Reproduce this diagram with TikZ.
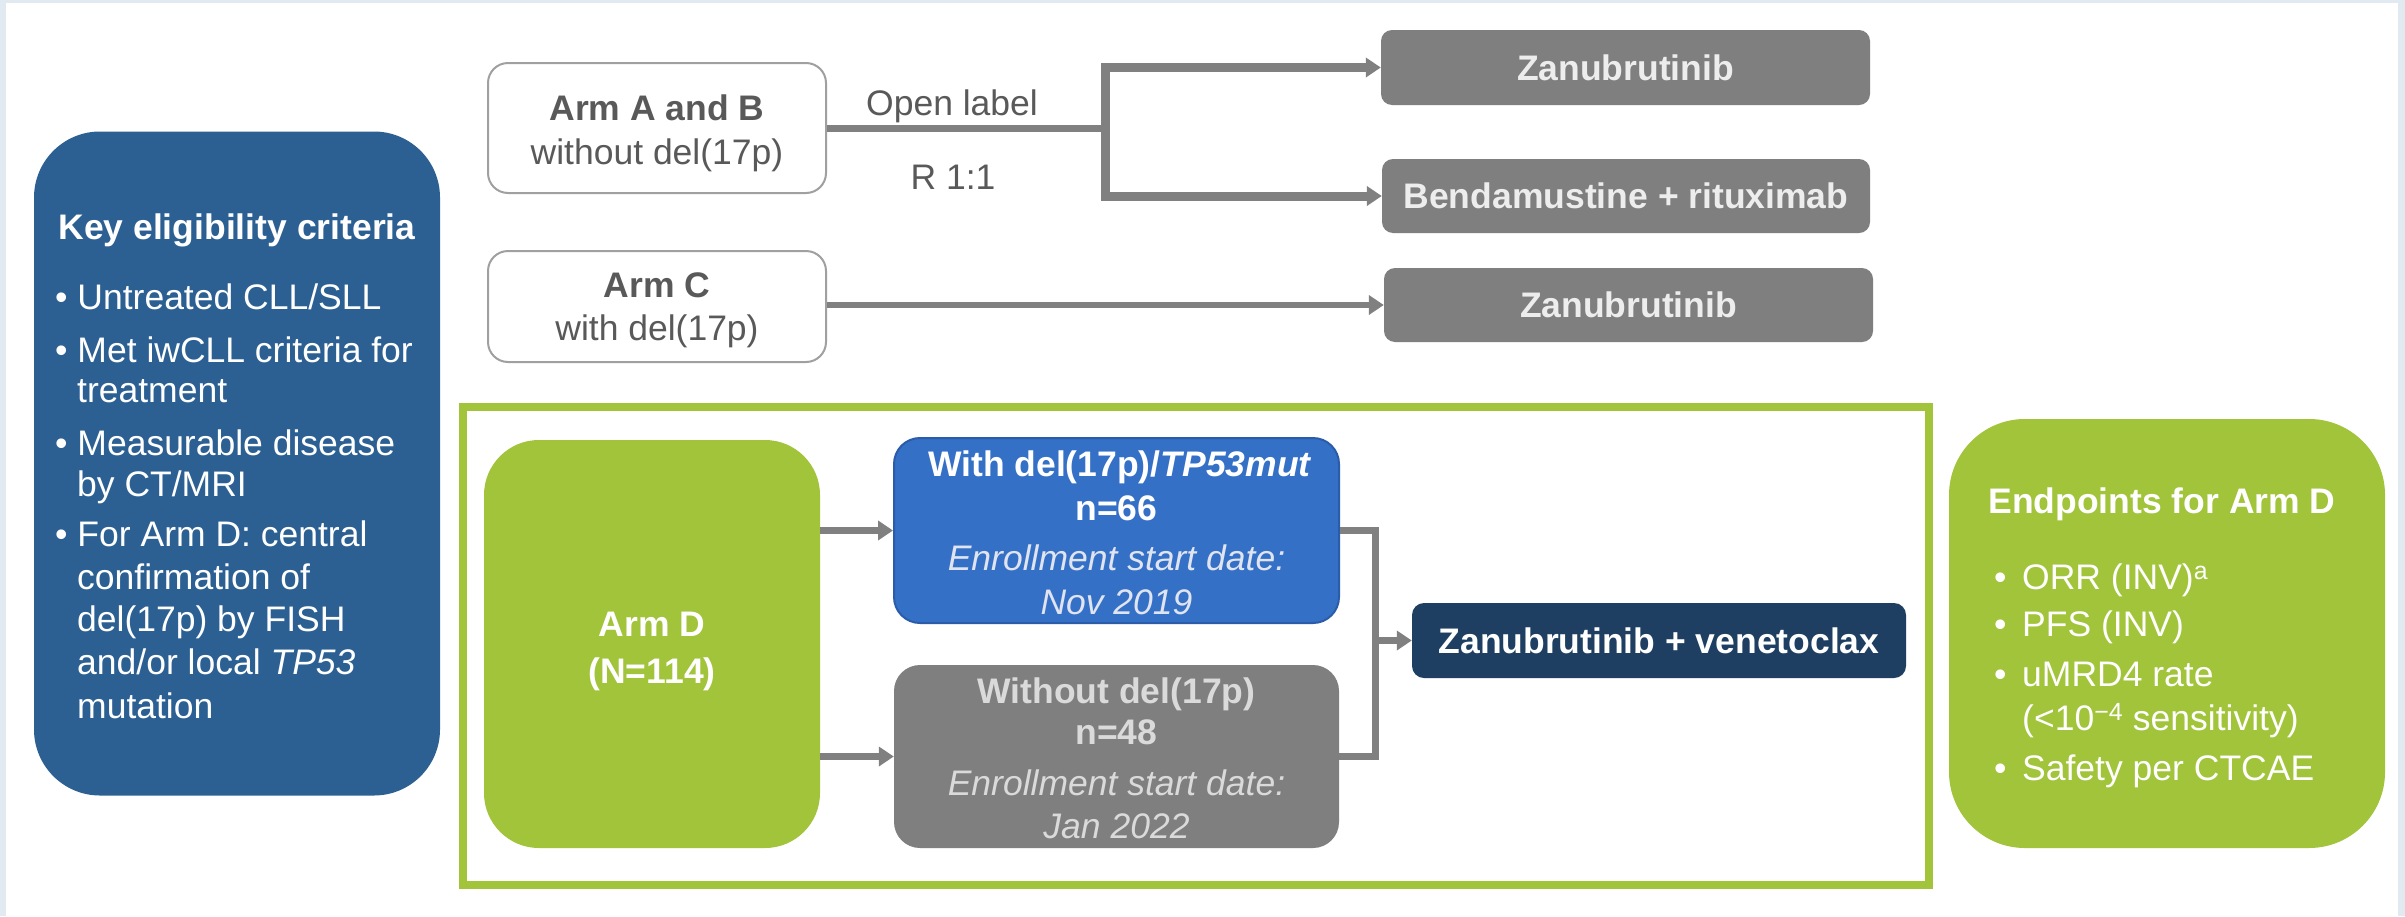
\documentclass[tikz,border=0pt]{standalone}
\usepackage{fontspec}
\setmainfont{Liberation Sans}
\usetikzlibrary{arrows.meta}
\definecolor{bgb}{HTML}{E1EAF0}
\definecolor{eblue}{HTML}{2C6093}
\definecolor{gr}{HTML}{A1C43A}
\definecolor{mblue}{HTML}{3570C7}
\definecolor{mblueb}{HTML}{2A5CAA}
\definecolor{gbox}{HTML}{7F7F7F}
\definecolor{navy}{HTML}{1E3F61}
\definecolor{cgray}{HTML}{808080}
\definecolor{armb}{HTML}{A0A0A0}
\definecolor{armt}{HTML}{595959}
\definecolor{ltxt}{HTML}{EDEDED}
\definecolor{gtxt}{HTML}{DADADA}
\definecolor{btxt}{HTML}{DFE4EE}
\newcommand{\fs}{\fontsize{35.5}{42}\selectfont}
\begin{document}
\begin{tikzpicture}[x=1pt,y=-1pt,
  armbox/.style={draw=armb, line width=2pt, fill=white, rounded corners=20pt, inner sep=0pt},
  gbx/.style={fill=gbox, rounded corners=11pt, inner sep=0pt, minimum height=75pt, text=ltxt, font=\fs\bfseries},
  tl/.style={anchor=base, inner sep=0pt, font=\fs},
  wl/.style={anchor=base west, inner sep=0pt, font=\fs, text=white},
  conn/.style={draw=cgray, line width=7pt},
  brk/.style={draw=cgray, line width=9pt},
  tip/.style={-{Triangle[length=15pt,width=19pt]}}
]
\path[use as bounding box, fill=bgb] (0,0) rectangle (2405,916);
\fill[white] (6,3) rectangle (2398,916);

% eligibility box
\node[fill=eblue, rounded corners=66pt, minimum width=406pt, minimum height=664pt, inner sep=0pt] (elig) at (237,463.5) {};
\node[tl, text=white, font=\fs\bfseries] (et) at (237,239) {Key eligibility criteria};
\node[wl] (e1) at (55,309) {\textbullet\ Untreated CLL/SLL};
\node[wl] (e2) at (55,362) {\textbullet\ Met iwCLL criteria for};
\node[wl] (e3) at (77,402) {treatment};
\node[wl] (e4) at (55,455) {\textbullet\ Measurable disease};
\node[wl] (e5) at (77,496) {by CT/MRI};
\node[wl] (e6) at (55,546) {\textbullet\ For Arm D: central};
\node[wl] (e7) at (77,589) {confirmation of};
\node[wl] (e8) at (77,631) {del(17p) by FISH};
\node[wl] (e9) at (77,674) {and/or local \textit{TP53}};
\node[wl] (e10) at (77,718) {mutation};

% arms A/B and C
\node[armbox, minimum width=338pt, minimum height=130pt] (armab) at (657,128) {};
\node[tl, text=armt, font=\fs\bfseries] (armab1) at (657,120) {Arm A and B};
\node[tl, text=armt] (armab2) at (657,164) {without del(17p)};
\node[armbox, minimum width=338pt, minimum height=111pt] (armc) at (657,306.5) {};
\node[tl, text=armt, font=\fs\bfseries] (armc1) at (657,297) {Arm C};
\node[tl, text=armt] (armc2) at (657,340) {with del(17p)};
\node[tl, text=armt] (ol) at (952,115) {Open label};
\node[tl, text=armt] (r11) at (953,189) {R 1:1};

\node[gbx, minimum width=489pt] (zan1) at (1625.5,67.5) {Zanubrutinib};
\node[gbx, minimum width=488pt, minimum height=74pt] (bend) at (1626,196) {Bendamustine + rituximab};
\node[gbx, minimum width=489pt, minimum height=74pt] (zan2) at (1628.5,305) {Zanubrutinib};

\coordinate (sp) at (1105,128);
\draw[conn] (armab.east) -- (sp);
\draw[brk, tip] (sp) |- (zan1.west);
\draw[brk, tip] (sp) |- (bend.west);
\draw[conn, line width=6pt, tip] (armc.east |- zan2.west) -- (zan2.west);

% Arm D frame
\node[draw=gr, line width=8pt, minimum width=1466pt, minimum height=478pt, inner sep=0pt] (frame) at (1196,646) {};
\node[fill=gr, rounded corners=55pt, minimum width=336pt, minimum height=408pt, inner sep=0pt] (armd) at (652,644) {};
\node[tl, text=white, font=\fs\bfseries] (armd1) at (652,636) {Arm D};
\node[tl, text=white, font=\fs\bfseries] (armd2) at (652,683) {(N=114)};

\node[fill=mblue, draw=mblueb, line width=2pt, rounded corners=26pt, minimum width=445pt, minimum height=185pt, inner sep=0pt] (blue) at (1116.5,530.5) {};
\node[tl, text=white, font=\fs\bfseries] (b1) at (1120,476) {With del(17p)/\textit{TP53mut}};
\node[tl, text=white, font=\fs\bfseries] (b2) at (1116.5,520) {n=66};
\node[tl, text=btxt, font=\fs\itshape] (b3) at (1116.5,570) {Enrollment start date:};
\node[tl, text=btxt, font=\fs\itshape] (b4) at (1116.5,614) {Nov 2019};

\node[fill=gbox, rounded corners=26pt, minimum width=445pt, minimum height=183pt, inner sep=0pt] (grayd) at (1116.5,756.5) {};
\node[tl, text=gtxt, font=\fs\bfseries] (g1) at (1116.5,703) {Without del(17p)};
\node[tl, text=gtxt, font=\fs\bfseries] (g2) at (1116.5,744) {n=48};
\node[tl, text=gtxt, font=\fs\itshape] (g3) at (1116.5,795) {Enrollment start date:};
\node[tl, text=gtxt, font=\fs\itshape] (g4) at (1116.5,838) {Jan 2022};

\node[fill=navy, rounded corners=12pt, minimum width=494pt, minimum height=75pt, inner sep=0pt, text=white, font=\fs\bfseries] (venet) at (1659,640.5) {Zanubrutinib + venetoclax};

\draw[conn, tip] (armd.east |- blue.west) -- (blue.west);
\draw[conn, tip] (armd.east |- grayd.west) -- (grayd.west);
\coordinate (mx) at (1375,640.5);
\draw[conn] (blue.east) -| (mx) |- (grayd.east);
\draw[conn, tip] (mx) -- (venet.west);

% endpoints
\node[fill=gr, rounded corners=76pt, minimum width=436pt, minimum height=429pt, inner sep=0pt] (endp) at (2167,633.5) {};
\node[tl, text=white, font=\fs\bfseries] (ept) at (2162,513) {Endpoints for Arm D};
\node[wl] (p1) at (1994,589) {\makebox[28pt][l]{\textbullet}ORR (INV)\textsuperscript{a}};
\node[wl] (p2) at (1994,636) {\makebox[28pt][l]{\textbullet}PFS (INV)};
\node[wl] (p3) at (1994,686) {\makebox[28pt][l]{\textbullet}uMRD4 rate};
\node[wl] (p4) at (2022,730) {(<10\textsuperscript{−4} sensitivity)};
\node[wl] (p5) at (1994,780) {\makebox[28pt][l]{\textbullet}Safety per CTCAE};
\end{tikzpicture}
\end{document}
